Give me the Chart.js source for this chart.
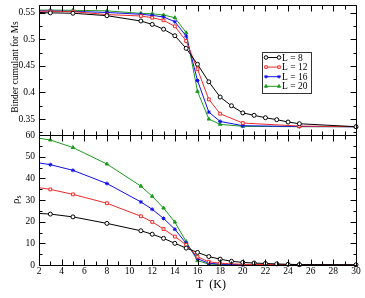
<!DOCTYPE html>
<html>
<head>
<meta charset="utf-8">
<script src="https://cdn.jsdelivr.net/npm/chart.js@4/dist/chart.umd.min.js"></script>
<style>
html,body{margin:0;padding:0;background:#fff;}
#wrap{position:relative;width:365px;height:298px;}
</style>
</head>
<body>
<div id="wrap"><canvas id="c" width="365" height="298"></canvas></div>
<script>
// ---- data ----
const tempsL8 = [2,3,5,8,11,12,13,14,15,16,17,18,19,20,21,22,23,24,25,30];
const tempsL  = [2,3,5,8,11,12,13,14,15,16,17,18,20,25,30];
const seriesNames = ['L = 8','L = 12','L = 16','L = 20'];

const binderL8  = [0.5505,0.5497,0.549,0.5444,0.5344,0.528,0.519,0.5067,0.483,0.453,0.420,0.3914,0.3750,0.3615,0.3570,0.3525,0.3488,0.3444,0.3412,0.3356];
const binderL12 = [0.553,0.5527,0.552,0.5465,0.5438,0.5406,0.5357,0.5244,0.4968,0.4436,0.387,0.360,0.3425,0.3368,0.3356];
const binderL16 = [0.5535,0.5532,0.5525,0.5505,0.547,0.545,0.542,0.533,0.506,0.4225,0.363,0.3455,0.3375,0.336,0.3356];
const binderL20 = [0.555,0.555,0.5545,0.5535,0.5488,0.548,0.5457,0.5406,0.5124,0.402,0.350,0.340,0.3363,0.3356,0.3356];

const rhoL8  = [23.8,23.5,22.2,19.2,15.8,14.2,12.3,10.0,7.8,5.8,3.9,2.7,1.7,1.2,0.9,0.7,0.5,0.3,0.2,0.1];
const rhoL12 = [35.7,34.9,32.6,28.5,22.5,19.9,16.6,13.1,9.3,3.8,1.5,0.8,0.3,0.1,0];
const rhoL16 = [47.1,46.3,43.7,37.6,29.1,25.7,21.5,16.5,10.0,2.9,0.8,0.4,0.1,0.05,0];
const rhoL20 = [58.5,57.7,54.2,46.6,36.4,31.7,26.3,19.8,10.8,2.0,0.4,0.2,0.1,0,0];

const xTickLabels = [2,4,6,8,10,12,14,16,18,20,22,24,26,28,30];
const binderTicks = [0.35,0.4,0.45,0.5,0.55];
const rhoTicks = [0,10,20,30,40,50,60];

// ---- styles ----
const colors = ['#000000','#ee2a2a','#1010e8','#1e9a1e'];
const pStyles = ['circle','rect','star','triangle'];
const pFill = ['#ffffff','#ffffff','#1010e8','#1e9a1e'];

function pts(xs, ys){ return xs.map((x,i)=>({x:x,y:ys[i]})); }
const binderSets = [pts(tempsL8,binderL8),pts(tempsL,binderL12),pts(tempsL,binderL16),pts(tempsL,binderL20)];
const rhoSets = [pts(tempsL8,rhoL8),pts(tempsL,rhoL12),pts(tempsL,rhoL16),pts(tempsL,rhoL20)];

function mk(data, i, axis){
  return {
    label: seriesNames[i], data: data, yAxisID: axis,
    borderColor: colors[i], backgroundColor: pFill[i], pointBorderColor: colors[i],
    pointBackgroundColor: pFill[i], borderWidth: 1, pointBorderWidth: 1,
    pointStyle: pStyles[i],
    pointRadius: c => (c.raw && c.raw.x === 2) ? 0 : 2,
    tension: 0, clip: false
  };
}
const datasets = [];
for (let i=0;i<4;i++) datasets.push(mk(binderSets[i], i, 'yT'));
for (let i=0;i<4;i++) datasets.push(mk(rhoSets[i], i, 'yB'));

const SERIF = '"Liberation Serif", "DejaVu Serif", serif';

const framePlugin = {
  id: 'frame',
  afterDraw(chart){
    const ctx = chart.ctx, ca = chart.chartArea;
    const xs = chart.scales.x;
    ctx.save();
    ctx.strokeStyle = '#000'; ctx.lineWidth = 1;
    const panels = [
      {s: chart.scales.yT, major: 0.05, minor: 0.025, min: 0.325, max: 0.565},
      {s: chart.scales.yB, major: 10, minor: 5, min: 0, max: 60}
    ];
    const L = Math.round(ca.left)+0.5, R = Math.round(ca.right)+0.5;
    panels.forEach(p => {
      const T = Math.round(p.s.top)+0.5, B = Math.round(p.s.bottom)+0.5;
      ctx.beginPath();
      ctx.rect(L, T, R-L, B-T);
      for (let t=2;t<=30;t++){
        const px = Math.round(xs.getPixelForValue(t))+0.5;
        const len = (t%2===0) ? 6 : 4;
        ctx.moveTo(px, T); ctx.lineTo(px, T+len);
        ctx.moveTo(px, B); ctx.lineTo(px, B-len);
      }
      const n = Math.round((p.max - p.min)/p.minor);
      for (let k=0;k<=n+1;k++){
        const v = p.min + k*p.minor;
        if (v > p.s.max + 1e-9 || v < p.s.min - 1e-9) continue;
        const py = Math.round(p.s.getPixelForValue(v))+0.5;
        const isMajor = Math.abs(v/p.major - Math.round(v/p.major)) < 1e-6;
        const len = isMajor ? 6 : 3;
        ctx.moveTo(L, py); ctx.lineTo(L+len, py);
        ctx.moveTo(R, py); ctx.lineTo(R-len, py);
      }
      ctx.stroke();
    });

    // axis titles
    ctx.fillStyle = '#000';
    ctx.textAlign = 'center'; ctx.textBaseline = 'middle';
    ctx.save();
    ctx.translate(15.5, 67);
    ctx.rotate(-Math.PI/2);
    ctx.font = '9.5px ' + SERIF;
    ctx.fillText('Binder cumulant for Ms', 0, 0);
    ctx.restore();

    ctx.save();
    ctx.translate(16, 200);
    ctx.rotate(-Math.PI/2);
    ctx.font = '11px ' + SERIF;
    ctx.textAlign = 'left';
    ctx.fillText('ρ', -4, 0);
    ctx.font = '8px ' + SERIF;
    ctx.fillText('s', 1.5, 3);
    ctx.restore();

    ctx.font = '12px ' + SERIF;
    ctx.textAlign = 'center';
    ctx.fillText('T  (K)', 211, 285);

    // legend
    const lx = 262, ly = 52, lw = 49, lh = 41;
    ctx.fillStyle = '#fff';
    ctx.fillRect(lx, ly, lw, lh);
    ctx.strokeStyle = '#333'; ctx.lineWidth = 1;
    ctx.strokeRect(lx+0.5, ly+0.5, lw, lh);
    ctx.font = '9.5px ' + SERIF;
    ctx.textAlign = 'left';
    for (let i=0;i<4;i++){
      const y = ly + 5.5 + i*9.6;
      ctx.strokeStyle = colors[i]; ctx.lineWidth = 1;
      ctx.fillStyle = pFill[i];
      ctx.beginPath(); ctx.moveTo(266, y); ctx.lineTo(279, y); ctx.stroke();
      [266, 279].forEach(mx => {
        Chart.helpers.drawPoint(ctx, {pointStyle: pStyles[i], radius: 1.8, borderWidth: 1}, mx, y);
      });
      ctx.fillStyle = '#000';
      ctx.fillText(seriesNames[i], 282, y+0.5);
    }
    ctx.restore();
  }
};

function noPad(s){ s.paddingTop = 0; s.paddingBottom = 0; s.paddingLeft = 0; s.paddingRight = 0; }

new Chart(document.getElementById('c'), {
  type: 'line',
  data: { datasets: datasets },
  options: {
    responsive: false, animation: false,
    layout: { padding: { top: 4, right: 9, left: 0, bottom: 0 } },
    plugins: { legend: { display: false }, tooltip: { enabled: false } },
    scales: {
      x: {
        type: 'linear', min: 2, max: 30,
        grid: { display: false, drawTicks: false }, border: { display: false },
        afterBuildTicks: s => { s.ticks = xTickLabels.map(v => ({value: v})); },
        afterFit: s => { s.height = 33; noPad(s); },
        ticks: { color: '#000', padding: 1, maxRotation: 0, autoSkip: false, font: { family: SERIF, size: 9.5 } }
      },
      yB: {
        type: 'linear', position: 'left', stack: 'panels', stackWeight: 1, min: 0, max: 60,
        grid: { display: false, drawTicks: false }, border: { display: false },
        afterBuildTicks: s => { s.ticks = rhoTicks.map(v => ({value: v})); },
        afterFit: s => { s.width = 39; noPad(s); },
        ticks: { color: '#000', padding: 4, autoSkip: false, font: { family: SERIF, size: 9.5 } }
      },
      yT: {
        type: 'linear', position: 'left', stack: 'panels', stackWeight: 1, min: 0.32, max: 0.5645,
        grid: { display: false, drawTicks: false }, border: { display: false },
        afterBuildTicks: s => { s.ticks = binderTicks.map(v => ({value: v})); },
        afterFit: s => { s.width = 39; noPad(s); },
        ticks: { color: '#000', padding: 4, autoSkip: false, font: { family: SERIF, size: 9.5 },
                 callback: v => String(Math.round(v*100)/100) }
      }
    }
  },
  plugins: [framePlugin]
});
</script>
</body>
</html>
